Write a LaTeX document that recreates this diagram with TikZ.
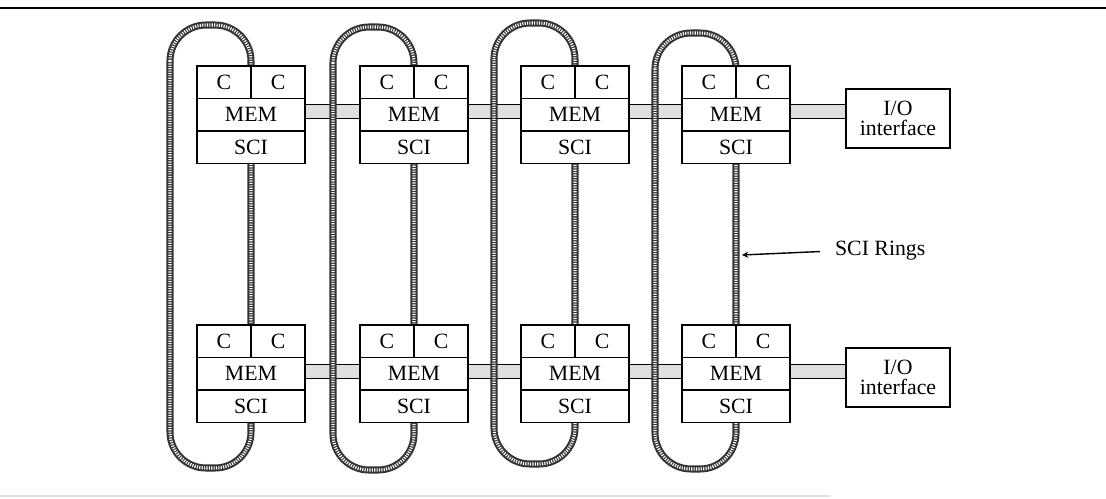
\documentclass[tikz,border=0pt]{standalone}
\usepackage{fontspec}
\setmainfont{Liberation Serif}
\usetikzlibrary{arrows,backgrounds}

\begin{document}
\begin{tikzpicture}[
                >=stealth,
                x=0.025cm,
                y=-0.025cm,
                cell/.style={draw, fill=white, line width=0.9pt, inner sep=0pt, outer sep=0pt,
                    minimum height=0.8125cm, font=\fontsize{15.5}{14.5}\selectfont},
                iobox/.style={cell, minimum width=2.6cm, minimum height=1.475cm, align=center},
                band/.style={draw=black, line width=0.8pt, double=gray!25, double distance=0.32cm},
                ring/.style={draw=black!80, line width=5pt,
                    postaction={draw=white, line width=2.2pt, dash pattern=on 0.8pt off 0.9pt}},
            ]

            \useasboundingbox (0,0) rectangle (1106,499);
            \draw[line width=1.4pt] (0,8) -- (1106,8);
            \draw[black!12, line width=0.8pt] (0,496) -- (830,496);

            % processor nodes, top row t and bottom row b
            \foreach \i/\x in {1/197, 2/360, 3/521, 4/682} {
                \foreach \r/\y in {t/66, b/325} {
                    \node[cell, minimum width=2.7cm, anchor=north west] (mem\r\i) at (\x,{\y+32.5}) {MEM};
                    \node[cell, minimum width=1.35cm, anchor=south west] (cl\r\i) at (mem\r\i.north west) {C};
                    \node[cell, minimum width=1.35cm, anchor=south east] (cr\r\i) at (mem\r\i.north east) {C};
                    \node[cell, minimum width=2.7cm, anchor=north] (sci\r\i) at (mem\r\i.south) {SCI};
                }
            }

            \node[iobox] (iot) at (898,118.5) {I/O\\interface};
            \node[iobox] (iob) at (898,377.5) {I/O\\interface};

            \node[anchor=west, inner sep=2pt, font=\fontsize{15.5}{14.5}\selectfont] (lbl) at (832,251) {SCI Rings};
            \coordinate (ringhit) at (742,255);
            \draw[->, line width=1pt, shorten <=0.3cm] (lbl.west) -- (ringhit);

            \begin{pgfonlayer}{background}
                % memory links
                \foreach \r/\dy in {t/3, b/2} {
                    \foreach \i/\j in {1/2, 2/3, 3/4} {
                        \draw[band] ([yshift=\dy*0.025cm]mem\r\i.east) -- ([yshift=\dy*0.025cm]mem\r\j.west);
                    }
                    \draw[band] ([yshift=\dy*0.025cm]mem\r4.east) -- ([yshift=\dy*0.025cm]mem\r4.east -| io\r.west);
                }
                % SCI rings
                \foreach \l/\d/\tp/\bt in {170/251/25/468, 333/414/27/470, 494/575/23/464, 655/736/33/469} {
                    \draw[ring, rounded corners=0.9cm] (\l,\tp) rectangle (\d,\bt);
                }
            \end{pgfonlayer}

            \end{tikzpicture}
\end{document}
